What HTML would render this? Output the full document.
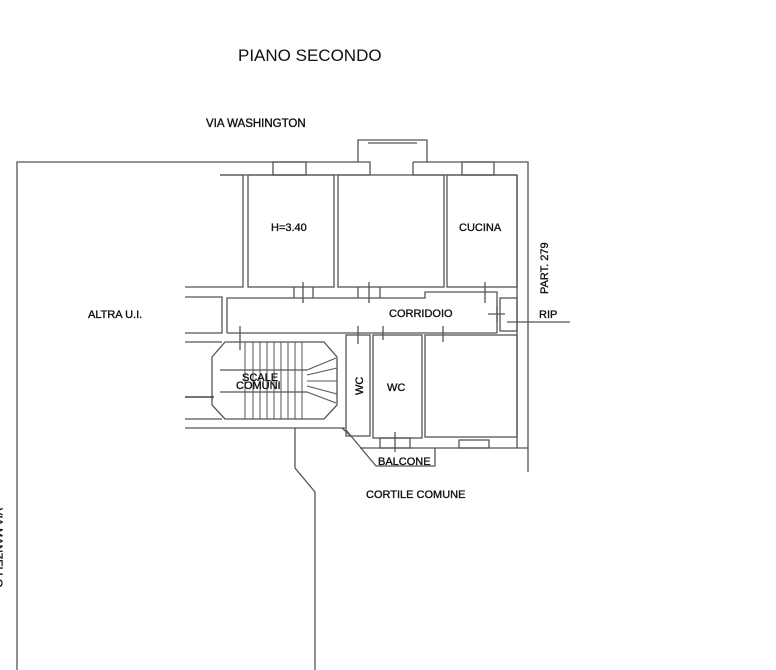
<!DOCTYPE html>
<html><head><meta charset="utf-8"><style>
html,body{margin:0;padding:0;background:#fff;width:776px;height:670px;overflow:hidden}
svg{display:block}
text{font-family:"Liberation Sans",sans-serif;fill:#111}
.l{stroke:#111;stroke-width:0.35}
</style></head><body>
<svg width="776" height="670" viewBox="0 0 776 670" xmlns="http://www.w3.org/2000/svg">
<g fill="none" stroke="#555" stroke-width="1.3">
<polyline points="17,670 17,162 358,162"/>
<polyline points="413,162 528,162 528,472"/>
<polyline points="358,162 358,140 427,140 427,162"/>
<line x1="368" y1="143" x2="417" y2="143"/>
<polyline points="358,162 370,162 370,175"/>
<polyline points="413,162 413,175"/>
<line x1="220" y1="175" x2="370" y2="175"/>
<line x1="413" y1="175" x2="517" y2="175"/>
<rect x="273" y="162" width="33" height="13"/>
<rect x="462" y="162" width="32" height="13"/>
<polyline points="220,175 243,175 243,287 185,287"/>
<rect x="248" y="175" width="86" height="112"/>
<rect x="338" y="175" width="106" height="112"/>
<rect x="447" y="175" width="70" height="112"/>
<polyline points="227,333 227,298 425,298 425,292 497,292 497,333"/>
<polyline points="185,297 222,297 222,333 185,333"/>
<line x1="227" y1="333" x2="497" y2="333"/>
<line x1="517" y1="175" x2="517" y2="448"/>
<rect x="500" y="298" width="17" height="33"/>
<line x1="507" y1="322" x2="570" y2="322"/>
<line x1="488" y1="314" x2="505" y2="314"/>
<line x1="497" y1="306" x2="497" y2="322"/>
<line x1="303" y1="282" x2="303" y2="303"/><line x1="294" y1="287" x2="294" y2="298"/><line x1="313" y1="287" x2="313" y2="298"/>
<line x1="369" y1="282" x2="369" y2="303"/><line x1="358" y1="287" x2="358" y2="298"/><line x1="380" y1="287" x2="380" y2="298"/>
<line x1="485" y1="282" x2="485" y2="303"/>
<line x1="240" y1="326" x2="240" y2="350"/>
<line x1="358" y1="326" x2="358" y2="344"/>
<line x1="383" y1="326" x2="383" y2="340"/>
<line x1="443" y1="326" x2="443" y2="342"/>
<polygon points="225,342 324,342 337,357 337,405 324,419 225,419 212,405 212,357"/>
<line x1="220" y1="370" x2="307" y2="370"/>
<line x1="220" y1="392" x2="307" y2="392"/>
<g stroke-width="1">
<line x1="253" y1="342" x2="253" y2="419"/><line x1="260" y1="342" x2="260" y2="419"/><line x1="267" y1="342" x2="267" y2="419"/><line x1="274" y1="342" x2="274" y2="419"/><line x1="281" y1="342" x2="281" y2="419"/><line x1="288" y1="342" x2="288" y2="419"/><line x1="295" y1="342" x2="295" y2="419"/><line x1="302" y1="342" x2="302" y2="419"/><line x1="245" y1="342" x2="245" y2="419"/>
<line x1="307" y1="370" x2="336" y2="358"/><line x1="307" y1="375" x2="337" y2="368"/><line x1="307" y1="381" x2="337" y2="381"/><line x1="307" y1="386" x2="337" y2="394"/><line x1="307" y1="392" x2="336" y2="403"/>
</g>
<line x1="185" y1="342" x2="222" y2="342"/>
<line x1="185" y1="419" x2="222" y2="419"/>
<line x1="185" y1="397" x2="214" y2="397" stroke="#222"/>
<line x1="185" y1="428" x2="345" y2="428"/>
<polyline points="295,428 295,468 315,492 315,670"/>
<rect x="346" y="335" width="24" height="101"/>
<rect x="373" y="335" width="49" height="103"/>
<rect x="425" y="335" width="92" height="102"/>
<polyline points="346,430 376,466 435,466 435,448"/>
<line x1="360" y1="448" x2="528" y2="448"/>
<rect x="380" y="438" width="30" height="10"/>
<rect x="459" y="440" width="30" height="8"/>
<line x1="395" y1="432" x2="395" y2="452"/>
<line x1="342" y1="428" x2="352" y2="437"/>
</g>
<text x="238" y="61" font-size="17">PIANO SECONDO</text>
<g class="l">
<text x="206" y="127" font-size="11.5">VIA WASHINGTON</text>
<text x="271" y="231" font-size="11">H=3.40</text>
<text x="459" y="231" font-size="11">CUCINA</text>
<text x="88" y="318" font-size="11">ALTRA U.I.</text>
<text x="389" y="317" font-size="11">CORRIDOIO</text>
<text x="539" y="318" font-size="11">RIP</text>
<text x="242" y="381" font-size="11">SCALE</text>
<text x="236" y="389" font-size="11">COMUNI</text>
<text x="387" y="391" font-size="11">WC</text>
<text transform="translate(363,395) rotate(-90)" font-size="11">WC</text>
<text x="378" y="465" font-size="11">BALCONE</text>
<text x="366" y="498" font-size="11">CORTILE COMUNE</text>
<text transform="translate(548,294) rotate(-90)" font-size="11">PART. 279</text>
<text transform="translate(-5,508) rotate(90)" font-size="11">VIA MANZELLO</text>
</g>
</svg>
</body></html>
